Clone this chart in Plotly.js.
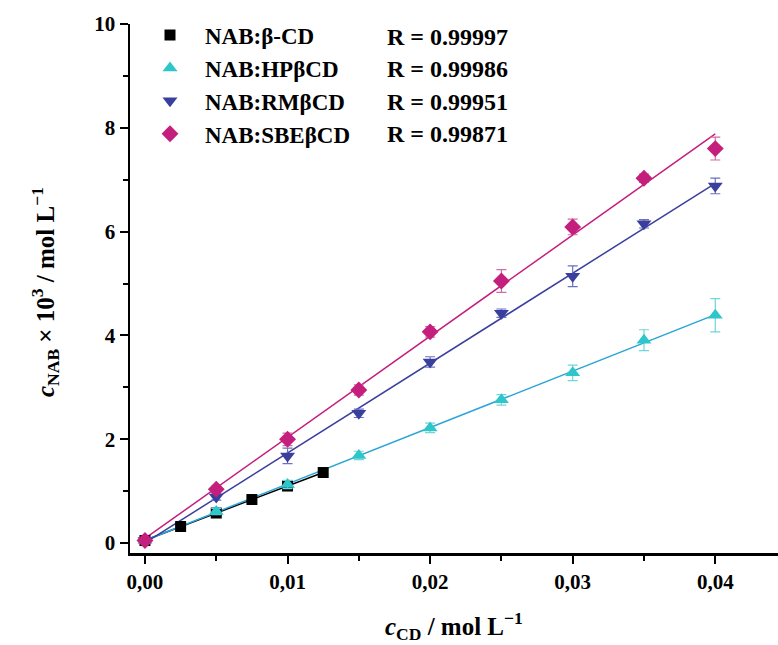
<!DOCTYPE html>
<html><head><meta charset="utf-8">
<script src="https://cdn.plot.ly/plotly-3.0.1.min.js"></script>
<style>body{margin:0;padding:0;background:#fff}#chart{width:778px;height:645px}</style>
</head><body><div id="chart"></div>
<script>
// Data (x: c_CD / mol L^-1, y: c_NAB x 10^3 / mol L^-1)
const names = ["NAB:β-CD", "NAB:HPβCD", "NAB:RMβCD", "NAB:SBEβCD"];
const rValues = ["R = 0.99997", "R = 0.99986", "R = 0.99951", "R = 0.99871"];
const xBeta = [0, 0.0025, 0.005, 0.0075, 0.01, 0.0125];
const yBeta = [0.05, 0.32, 0.58, 0.84, 1.10, 1.36];
const eBeta = [0.03, 0.03, 0.04, 0.04, 0.05, 0.05];
const xHP = [0, 0.005, 0.01, 0.015, 0.02, 0.025, 0.03, 0.035, 0.04];
const yHP = [0.05, 0.61, 1.13, 1.69, 2.22, 2.76, 3.28, 3.91, 4.39];
const eHP = [0.03, 0.06, 0.08, 0.08, 0.09, 0.1, 0.15, 0.2, 0.32];
const xRM = [0, 0.005, 0.01, 0.015, 0.02, 0.025, 0.03, 0.035, 0.04];
const yRM = [0.05, 0.89, 1.68, 2.50, 3.49, 4.43, 5.14, 6.15, 6.88];
const eRM = [0.03, 0.06, 0.15, 0.08, 0.1, 0.08, 0.2, 0.08, 0.15];
const xSBE = [0, 0.005, 0.01, 0.015, 0.02, 0.025, 0.03, 0.035, 0.04];
const ySBE = [0.05, 1.04, 2.00, 2.95, 4.07, 5.05, 6.09, 7.03, 7.60];
const eSBE = [0.03, 0.06, 0.12, 0.1, 0.1, 0.22, 0.15, 0.08, 0.22];

const markerColors = ["#000000", "#2ec6cb", "#3a3f9e", "#c41f7d"];
const errColors = ["#555555", "#6fd6da", "#6a6fbf", "#d46aa4"];
const lineColors = ["#000000", "#2aa5d6", "#3a3f9e", "#c41f7d"];
const symbols = ["square", "triangle-up", "triangle-down", "diamond"];
const sizes = [11, 13, 13, 13];

const xs = [xBeta, xHP, xRM, xSBE];
const ys = [yBeta, yHP, yRM, ySBE];
const es = [eBeta, eHP, eRM, eSBE];

function fit(x, y) {
  const n = x.length;
  let sx = 0, sy = 0, sxx = 0, sxy = 0;
  for (let i = 0; i < n; i++) { sx += x[i]; sy += y[i]; sxx += x[i]*x[i]; sxy += x[i]*y[i]; }
  const b = (n*sxy - sx*sy) / (n*sxx - sx*sx);
  const a = (sy - b*sx) / n;
  return [a, b];
}

const traces = [];
for (let i = 0; i < 4; i++) {
  const [a, b] = fit(xs[i], ys[i]);
  const x0 = xs[i][0], x1 = xs[i][xs[i].length-1];
  traces.push({x: [x0, x1], y: [a + b*x0, a + b*x1], mode: "lines", showlegend: false,
    line: {color: lineColors[i], width: 1.5}, hoverinfo: "skip"});
}
for (let i = 0; i < 4; i++) {
  traces.push({x: xs[i], y: ys[i], mode: "markers", name: "<b>" + names[i] + "</b>",
    marker: {symbol: symbols[i], size: sizes[i], color: markerColors[i], line: {width: 0}},
    error_y: {type: "data", array: es[i], visible: true, color: errColors[i], thickness: 1.2, width: 5}});
}

const F = "Liberation Serif, Times New Roman, serif";
const layout = {
  width: 778, height: 645,
  margin: {l: 130, r: 0, t: 24, b: 92},
  paper_bgcolor: "#fff", plot_bgcolor: "#fff",
  separators: ",.",
  font: {family: F, color: "#000"},
  showlegend: true,
  xaxis: {
    range: [-0.00105, 0.0444], showgrid: false, zeroline: false,
    showline: true, linecolor: "#000", linewidth: 2.5,
    ticks: "outside", ticklen: 8, tickwidth: 2, tickcolor: "#000",
    tickvals: [0, 0.01, 0.02, 0.03, 0.04], tickformat: ".2f",
    minor: {tickvals: [0.005, 0.015, 0.025, 0.035], ticks: "outside", ticklen: 5, tickwidth: 2, tickcolor: "#000"},
    tickfont: {size: 21, family: F, weight: "bold"}
  },
  yaxis: {
    range: [-0.19, 10], showgrid: false, zeroline: false,
    showline: true, linecolor: "#000", linewidth: 2.5,
    ticks: "outside", ticklen: 8, tickwidth: 2, tickcolor: "#000",
    tickvals: [0, 2, 4, 6, 8, 10],
    minor: {tickvals: [1, 3, 5, 7, 9], ticks: "outside", ticklen: 5, tickwidth: 2, tickcolor: "#000"},
    tickfont: {size: 21, family: F, weight: "bold"}
  },
  legend: {x: (135-130)/648, y: 1.0198, xanchor: "left", yanchor: "top", bgcolor: "rgba(0,0,0,0)",
    itemwidth: 60, font: {size: 23, family: F}, tracegroupgap: 0},
  annotations: rValues.map((t, i) => ({
    xref: "paper", yref: "paper", x: (385-130)/648, y: (553 - (37 + 32.3*i))/529, xanchor: "left", yanchor: "middle",
    text: "<b>" + t + "</b>", showarrow: false, font: {size: 24, family: F}
  })).concat([
    {xref: "paper", yref: "paper", x: (45-130)/648, y: (553-292)/529, xanchor: "center", yanchor: "middle",
     textangle: -90, showarrow: false, font: {size: 25, family: F},
     text: "<b><i>c</i><sub>NAB</sub> × 10<sup>3</sup> / mol L<sup>−1</sup></b>"},
    {xref: "paper", yref: "paper", x: (454-130)/648, y: (553-626)/529, xanchor: "center", yanchor: "middle",
     showarrow: false, font: {size: 25, family: F},
     text: "<b><i>c</i><sub>CD</sub> / mol L<sup>−1</sup></b>"}
  ])
};

Plotly.newPlot("chart", traces, layout, {displayModeBar: false, staticPlot: true});
</script></body></html>
